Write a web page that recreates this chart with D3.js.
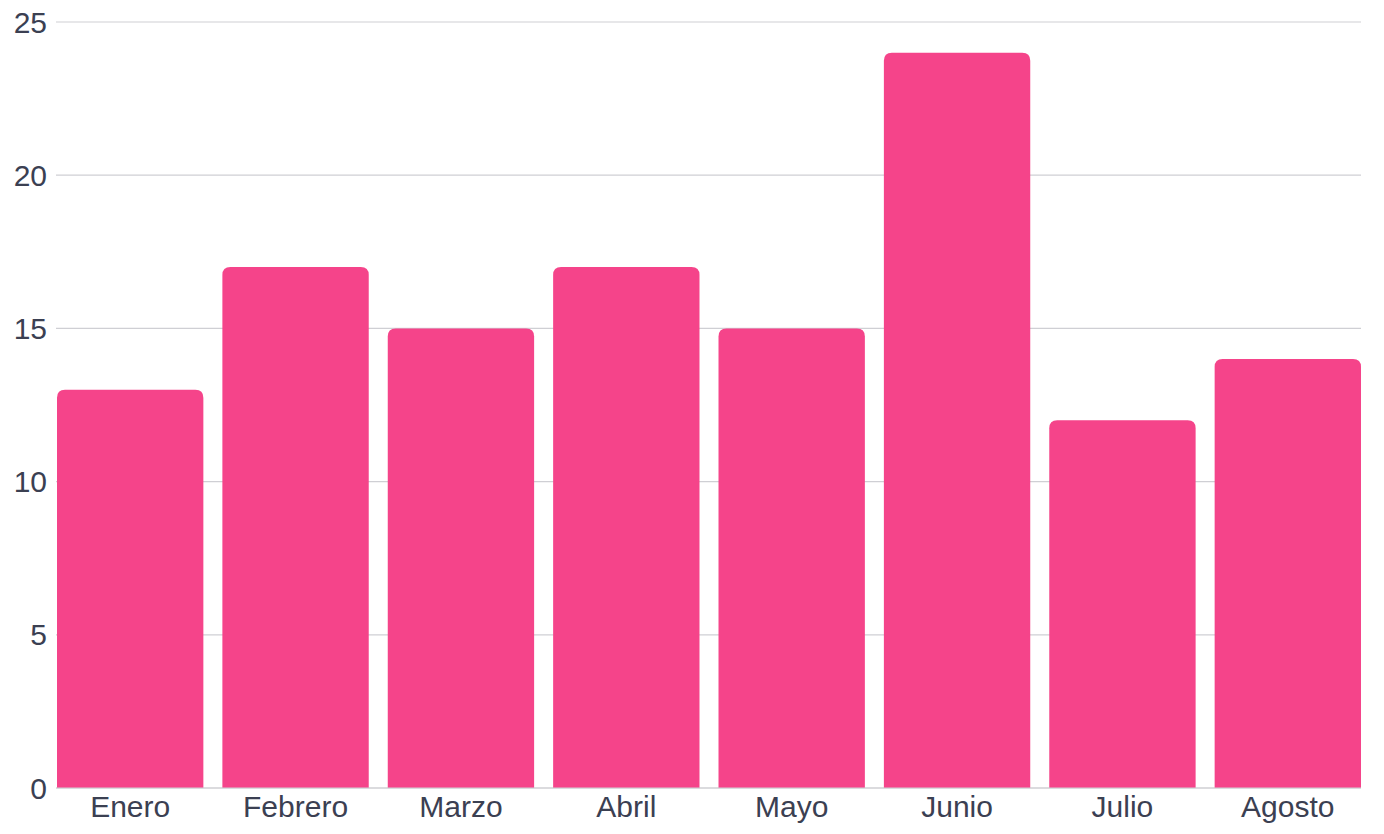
<!DOCTYPE html>
<html>
<head>
<meta charset="utf-8">
<script src="https://cdn.jsdelivr.net/npm/d3@7"></script>
<style>
  body { margin: 0; background: #fff; }
  text { font-family: "Liberation Sans", Arial, sans-serif; fill: #3b4052; }
</style>
</head>
<body>
<svg id="chart" width="1384" height="834"></svg>
<script>
var months = ["Enero", "Febrero", "Marzo", "Abril", "Mayo", "Junio", "Julio", "Agosto"];
var values = [13, 17, 15, 17, 15, 24, 12, 14];
var yTicks = [0, 5, 10, 15, 20, 25];

var svg = d3.select("#chart");
var plotLeft = 56, plotRight = 1361, plotTop = 22, plotBottom = 788;

var x = d3.scaleBand().domain(months).range([plotLeft + 1, plotRight]).paddingInner(0.115).paddingOuter(0);
var y = d3.scaleLinear().domain([0, 25]).range([plotBottom, plotTop]);

// grid
svg.append("g").selectAll("line").data(yTicks).enter().append("line")
  .attr("x1", plotLeft).attr("x2", plotRight)
  .attr("y1", d => y(d)).attr("y2", d => y(d))
  .attr("stroke", "#cfcfd4").attr("stroke-width", 1.2);

svg.append("g").selectAll("text").data(yTicks).enter().append("text")
  .attr("x", 47).attr("y", d => y(d)).attr("dy", "0.35em")
  .attr("text-anchor", "end").attr("font-size", 30)
  .text(d => d);

// bars with rounded tops
var r = 8;
svg.append("g").selectAll("path").data(values).enter().append("path")
  .attr("fill", "#f5448a")
  .attr("d", function(d, i) {
    var x0 = x(months[i]), w = x.bandwidth(), y0 = y(d), y1 = y(0);
    return "M" + x0 + "," + y1 + "V" + (y0 + r) + "Q" + x0 + "," + y0 + " " + (x0 + r) + "," + y0 +
      "H" + (x0 + w - r) + "Q" + (x0 + w) + "," + y0 + " " + (x0 + w) + "," + (y0 + r) + "V" + y1 + "Z";
  });

svg.append("line").attr("x1", plotLeft).attr("x2", plotRight).attr("y1", plotBottom).attr("y2", plotBottom)
  .attr("stroke", "#cfcfd4").attr("stroke-width", 1.2);

svg.append("g").selectAll("text").data(months).enter().append("text")
  .attr("x", d => x(d) + x.bandwidth() / 2).attr("y", 817)
  .attr("text-anchor", "middle").attr("font-size", 30)
  .text(d => d);
</script>
</body>
</html>
